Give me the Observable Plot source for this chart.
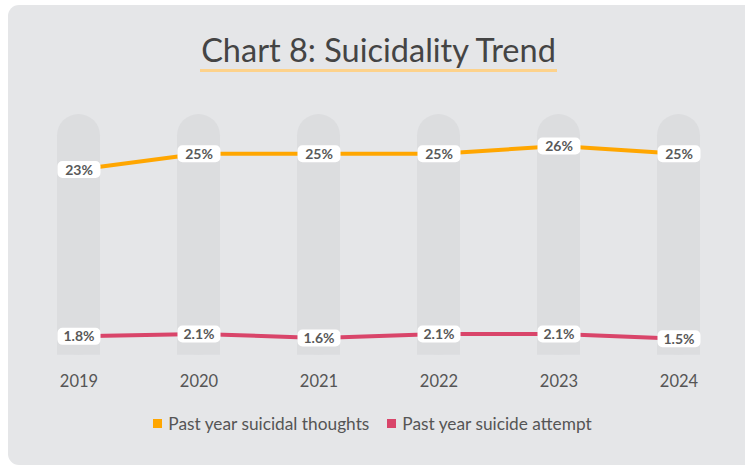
<!DOCTYPE html>
<html>
<head>
<meta charset="utf-8">
<script src="https://cdn.jsdelivr.net/npm/d3@7"></script>
<script src="https://cdn.jsdelivr.net/npm/@observablehq/plot@0.6"></script>
<style>
  html, body { margin: 0; padding: 0; background: #ffffff; width: 745px; height: 466px; overflow: hidden; font-family: Lato, "Noto Sans", sans-serif; }
  #card { position: absolute; left: 8px; top: 5px; width: 760px; height: 460px; background: #e5e6e8; border-radius: 11px; }
  #title { position: absolute; left: 0; width: 757px; top: 32px; text-align: center; }
  #title span { display: inline-block; font-size: 32.5px; color: #444; line-height: 36px; padding: 0 1px 1px 1px; border-bottom: 3px solid #fdd28b; }
  #chart { position: absolute; left: 0; top: 94px; }
  #legend { position: absolute; left: 0; width: 745px; top: 413px; display: flex; justify-content: center; gap: 18px; font-size: 17.3px; color: #555; }
  #legend .item { display: flex; align-items: center; gap: 6px; }
  #legend .sw { width: 9px; height: 9px; display: inline-block; }
</style>
</head>
<body>
<div id="card"></div>
<div id="title"><span>Chart 8: Suicidality Trend</span></div>
<div id="chart"></div>
<div id="legend"></div>
<script>
const years = ["2019", "2020", "2021", "2022", "2023", "2024"];
const thoughts = [23, 25, 25, 25, 26, 25];
const attempts = [1.8, 2.1, 1.6, 2.1, 2.1, 1.5];
const seriesNames = ["Past year suicidal thoughts", "Past year suicide attempt"];
const seriesColors = ["#ffa600", "#d9456a"];
const pillarTop = 30;
const pillarBottom = -0.6;

const rowsT = years.map((y, i) => ({year: y, value: thoughts[i], label: thoughts[i] + "%"}));
const rowsA = years.map((y, i) => ({year: y, value: attempts[i], label: attempts[i].toFixed(1) + "%"}));
const pillars = years.map(y => ({year: y}));

const box = {
  draw(ctx) {
    const w = 21.5, h = 8.5, r = 5;
    ctx.moveTo(-w + r, -h);
    ctx.lineTo(w - r, -h);
    ctx.arcTo(w, -h, w, -h + r, r);
    ctx.lineTo(w, h - r);
    ctx.arcTo(w, h, w - r, h, r);
    ctx.lineTo(-w + r, h);
    ctx.arcTo(-w, h, -w, h - r, r);
    ctx.lineTo(-w, -h + r);
    ctx.arcTo(-w, -h, -w + r, -h, r);
    ctx.closePath();
  }
};

const chart = Plot.plot({
  width: 745,
  height: 300,
  marginLeft: 55,
  marginRight: 43,
  marginTop: 20,
  marginBottom: 44,
  style: {background: "transparent", fontFamily: "Lato, 'Noto Sans', sans-serif"},
  x: {type: "band", domain: years, paddingInner: 0.644, paddingOuter: 0, label: null},
  y: {domain: [0, 30], axis: null},
  marks: [
    Plot.barY(pillars, {x: "year", y1: pillarBottom, y2: pillarTop, fill: "#dcdddf", rx: 21.5}),
    Plot.barY(pillars, {x: "year", y1: pillarBottom, y2: 10, fill: "#dcdddf"}),
    Plot.line(rowsT, {x: "year", y: "value", stroke: seriesColors[0], strokeWidth: 4}),
    Plot.line(rowsA, {x: "year", y: "value", stroke: seriesColors[1], strokeWidth: 4}),
    Plot.dot(rowsT.concat(rowsA), {x: "year", y: "value", symbol: box, fill: "#ffffff", stroke: null, r: 5}),
    Plot.text(rowsT.concat(rowsA), {x: "year", y: "value", text: "label", fill: "#595959", fontSize: 14, fontWeight: 700, dy: 0.5}),
    Plot.axisX({tickSize: 0, tickPadding: 25, fontSize: 16.5, color: "#555", label: null})
  ]
});
document.getElementById("chart").appendChild(chart);

const legend = document.getElementById("legend");
seriesNames.forEach((name, i) => {
  const item = document.createElement("div");
  item.className = "item";
  const sw = document.createElement("span");
  sw.className = "sw";
  sw.style.background = seriesColors[i];
  const t = document.createElement("span");
  t.textContent = name;
  item.appendChild(sw);
  item.appendChild(t);
  legend.appendChild(item);
});
</script>
</body>
</html>
